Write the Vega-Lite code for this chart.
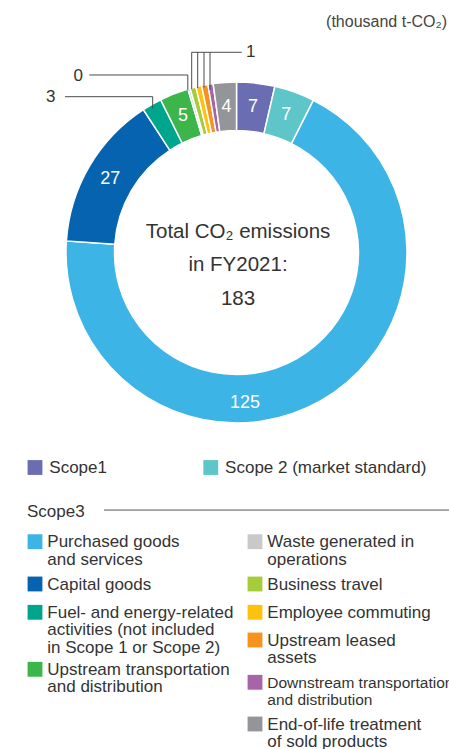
{
  "$schema": "https://vega.github.io/schema/vega-lite/v6.json",
  "padding": 0,
  "spacing": 0,
  "bounds": "flush",
  "background": "#ffffff",
  "config": {"view": {"stroke": null}, "font": "Liberation Sans", "text": {"font": "Liberation Sans"}},
  "datasets": {
    "emissions": [
      {"ord": 1, "cat": "Scope1", "value": 6.6},
      {"ord": 2, "cat": "Scope 2 (market standard)", "value": 7.0},
      {"ord": 3, "cat": "Purchased goods and services", "value": 125.4},
      {"ord": 4, "cat": "Capital goods", "value": 26.9},
      {"ord": 5, "cat": "Fuel- and energy-related activities", "value": 3.4},
      {"ord": 6, "cat": "Upstream transportation and distribution", "value": 5.0},
      {"ord": 7, "cat": "Waste generated in operations", "value": 0.4},
      {"ord": 8, "cat": "Business travel", "value": 1.0},
      {"ord": 9, "cat": "Employee commuting", "value": 1.0},
      {"ord": 10, "cat": "Upstream leased assets", "value": 1.1},
      {"ord": 11, "cat": "Downstream transportation and distribution", "value": 0.9},
      {"ord": 12, "cat": "End-of-life treatment of sold products", "value": 4.0}
    ],
    "legend": [
      {"cat": "Scope1", "col": 0, "line": 0, "label": ["Scope1"]},
      {"cat": "Scope 2 (market standard)", "col": 0.799, "line": 0, "label": ["Scope 2 (market standard)"]},
      {"cat": "Purchased goods and services", "col": 0, "line": 4.289, "label": ["Purchased goods", "and services"]},
      {"cat": "Capital goods", "col": 0, "line": 6.734, "label": ["Capital goods"]},
      {"cat": "Fuel- and energy-related activities", "col": 0, "line": 8.37, "label": ["Fuel- and energy-related", "activities (not included", "in Scope 1 or Scope 2)"]},
      {"cat": "Upstream transportation and distribution", "col": 0, "line": 11.665, "label": ["Upstream transportation", "and distribution"]},
      {"cat": "Waste generated in operations", "col": 1, "line": 4.289, "label": ["Waste generated in", "operations"]},
      {"cat": "Business travel", "col": 1, "line": 6.734, "label": ["Business travel"]},
      {"cat": "Employee commuting", "col": 1, "line": 8.37, "label": ["Employee commuting"]},
      {"cat": "Upstream leased assets", "col": 1, "line": 9.971, "label": ["Upstream leased", "assets"]},
      {"cat": "Downstream transportation and distribution", "col": 1, "line": 12.416, "label": ["Downstream transportation", "and distribution"]},
      {"cat": "End-of-life treatment of sold products", "col": 1, "line": 14.827, "label": ["End-of-life treatment", "of sold products"]}
    ],
    "scope3": [
      {"label": "Scope3", "col": -0.0364, "line": 2.497, "ruleFrom": 0.3136, "ruleTo": 1.8818, "ruleLine": 2.46}
    ],
    "leaders": [
      {"x": -1.006, "y": 0.9138, "x2": -0.4915, "y2": 0.9138},
      {"x": -0.4915, "y": 0.9138, "x2": -0.4915, "y2": 0.8457},
      {"x": -0.8633, "y": 1.0411, "x2": -0.2856, "y2": 1.0411},
      {"x": -0.2856, "y": 1.0411, "x2": -0.2856, "y2": 0.9501},
      {"x": -0.2628, "y": 1.1742, "x2": 0.0305, "y2": 1.1742},
      {"x": -0.2628, "y": 1.1742, "x2": -0.2628, "y2": 0.9589},
      {"x": -0.2276, "y": 1.1742, "x2": -0.2276, "y2": 0.9648},
      {"x": -0.1906, "y": 1.1742, "x2": -0.1906, "y2": 0.9677},
      {"x": -0.1554, "y": 1.1742, "x2": -0.1554, "y2": 0.9531}
    ],
    "leaderLabels": [
      {"text": "3", "x": -1.1173, "y": 0.9138},
      {"text": "0", "x": -0.956, "y": 1.038},
      {"text": "1", "x": 0.0557, "y": 1.1742}
    ],
    "bigLabel": [{"text": "125", "x": 0.0499, "y": -0.881}],
    "centerText": [{"text": ["Total CO₂ emissions", "in FY2021:", "183"], "x": 0.0088, "y": 0.122}],
    "unitNote": [{"text": "(thousand t-CO₂)", "x": 1.2346, "y": 1.3537}]
  },
  "vconcat": [
    {
      "width": 449,
      "height": 440,
      "layer": [
        {
          "data": {"name": "emissions"},
          "mark": {"type": "arc", "outerRadius": 170.5, "innerRadius": 122, "stroke": "#ffffff", "strokeWidth": 1.5},
          "encoding": {
            "x": {"datum": 0, "type": "quantitative", "scale": {"domain": [-1.3871, 1.2463], "nice": false, "zero": false}, "axis": null},
            "y": {"datum": 0, "type": "quantitative", "scale": {"domain": [-1.0997, 1.4809], "nice": false, "zero": false}, "axis": null},
            "theta": {"field": "value", "type": "quantitative", "stack": true},
            "order": {"field": "ord", "type": "quantitative", "sort": "ascending"},
            "color": {
              "field": "cat", "type": "nominal", "legend": null,
              "scale": {
                "domain": ["Scope1", "Scope 2 (market standard)", "Purchased goods and services", "Capital goods", "Fuel- and energy-related activities", "Upstream transportation and distribution", "Waste generated in operations", "Business travel", "Employee commuting", "Upstream leased assets", "Downstream transportation and distribution", "End-of-life treatment of sold products"],
                "range": ["#6b6db3", "#5ec5c8", "#3cb4e6", "#0563af", "#00a58d", "#3cb54b", "#c9c9ca", "#a5cd39", "#fec10e", "#f6921e", "#a764a8", "#939598"]
              }
            }
          }
        },
        {
          "data": {"name": "emissions"},
          "mark": {"type": "text", "radius": 146.25, "fontSize": 18, "color": "#ffffff", "align": "center", "baseline": "middle"},
          "encoding": {
            "x": {"datum": 0, "type": "quantitative"},
            "y": {"datum": 0, "type": "quantitative"},
            "theta": {"field": "value", "type": "quantitative", "stack": true},
            "order": {"field": "ord", "type": "quantitative", "sort": "ascending"},
            "text": {"condition": {"test": "datum.value >= 3.5 && datum.value < 100", "field": "value", "type": "quantitative", "format": ".0f"}, "value": ""}
          }
        },
        {
          "data": {"name": "bigLabel"},
          "mark": {"type": "text", "fontSize": 18, "color": "#ffffff", "align": "center", "baseline": "middle"},
          "encoding": {
            "x": {"field": "x", "type": "quantitative"},
            "y": {"field": "y", "type": "quantitative"},
            "text": {"field": "text", "type": "nominal"}
          }
        },
        {
          "data": {"name": "leaders"},
          "mark": {"type": "rule", "color": "#4a4a4a", "strokeWidth": 1},
          "encoding": {
            "x": {"field": "x", "type": "quantitative"},
            "y": {"field": "y", "type": "quantitative"},
            "x2": {"field": "x2"},
            "y2": {"field": "y2"}
          }
        },
        {
          "data": {"name": "leaderLabels"},
          "mark": {"type": "text", "fontSize": 17, "color": "#333333", "align": "left", "baseline": "middle"},
          "encoding": {
            "x": {"field": "x", "type": "quantitative"},
            "y": {"field": "y", "type": "quantitative"},
            "text": {"field": "text", "type": "nominal"}
          }
        },
        {
          "data": {"name": "centerText"},
          "mark": {"type": "text", "fontSize": 20.5, "lineHeight": 33.7, "color": "#333333", "align": "center", "baseline": "middle"},
          "encoding": {
            "x": {"field": "x", "type": "quantitative"},
            "y": {"field": "y", "type": "quantitative"},
            "text": {"field": "text", "type": "nominal"}
          }
        },
        {
          "data": {"name": "unitNote"},
          "mark": {"type": "text", "fontSize": 16, "color": "#444444", "align": "right", "baseline": "middle"},
          "encoding": {
            "x": {"field": "x", "type": "quantitative"},
            "y": {"field": "y", "type": "quantitative"},
            "text": {"field": "text", "type": "nominal"}
          }
        }
      ]
    },
    {
      "width": 449,
      "height": 309,
      "layer": [
        {
          "data": {"name": "legend"},
          "mark": {"type": "point", "shape": "square", "filled": true, "size": 220, "opacity": 1},
          "encoding": {
            "x": {"field": "col", "type": "quantitative", "scale": {"domain": [-0.1591, 1.8818], "nice": false, "zero": false}, "axis": null},
            "y": {"field": "line", "type": "quantitative", "scale": {"domain": [-1.5896, 16.272], "nice": false, "zero": false, "reverse": true}, "axis": null},
            "color": {"field": "cat", "type": "nominal", "legend": null}
          }
        },
        {
          "data": {"name": "legend"},
          "transform": [{"filter": "datum.line < 1"}],
          "mark": {"type": "text", "fontSize": 17, "lineHeight": 17.3, "color": "#333333", "align": "left", "baseline": "alphabetic", "dx": 14.3, "dy": 6},
          "encoding": {
            "x": {"field": "col", "type": "quantitative"},
            "y": {"field": "line", "type": "quantitative"},
            "text": {"field": "label", "type": "nominal"}
          }
        },
        {
          "data": {"name": "legend"},
          "transform": [{"filter": "datum.line >= 1 && datum.cat != 'Downstream transportation and distribution'"}],
          "mark": {"type": "text", "fontSize": 17, "lineHeight": 17.3, "color": "#333333", "align": "left", "baseline": "alphabetic", "dx": 12.3, "dy": 5.7},
          "encoding": {
            "x": {"field": "col", "type": "quantitative"},
            "y": {"field": "line", "type": "quantitative"},
            "text": {"field": "label", "type": "nominal"}
          }
        },
        {
          "data": {"name": "legend"},
          "transform": [{"filter": "datum.cat == 'Downstream transportation and distribution'"}],
          "mark": {"type": "text", "fontSize": 15.5, "lineHeight": 17, "color": "#333333", "align": "left", "baseline": "alphabetic", "dx": 12.3, "dy": 5.5},
          "encoding": {
            "x": {"field": "col", "type": "quantitative"},
            "y": {"field": "line", "type": "quantitative"},
            "text": {"field": "label", "type": "nominal"}
          }
        },
        {
          "data": {"name": "scope3"},
          "mark": {"type": "text", "fontSize": 17, "color": "#333333", "align": "left", "baseline": "alphabetic", "dy": 6},
          "encoding": {
            "x": {"field": "col", "type": "quantitative"},
            "y": {"field": "line", "type": "quantitative"},
            "text": {"field": "label", "type": "nominal"}
          }
        },
        {
          "data": {"name": "scope3"},
          "mark": {"type": "rule", "color": "#555555", "strokeWidth": 1},
          "encoding": {
            "x": {"field": "ruleFrom", "type": "quantitative"},
            "x2": {"field": "ruleTo"},
            "y": {"field": "ruleLine", "type": "quantitative"}
          }
        }
      ]
    }
  ]
}
